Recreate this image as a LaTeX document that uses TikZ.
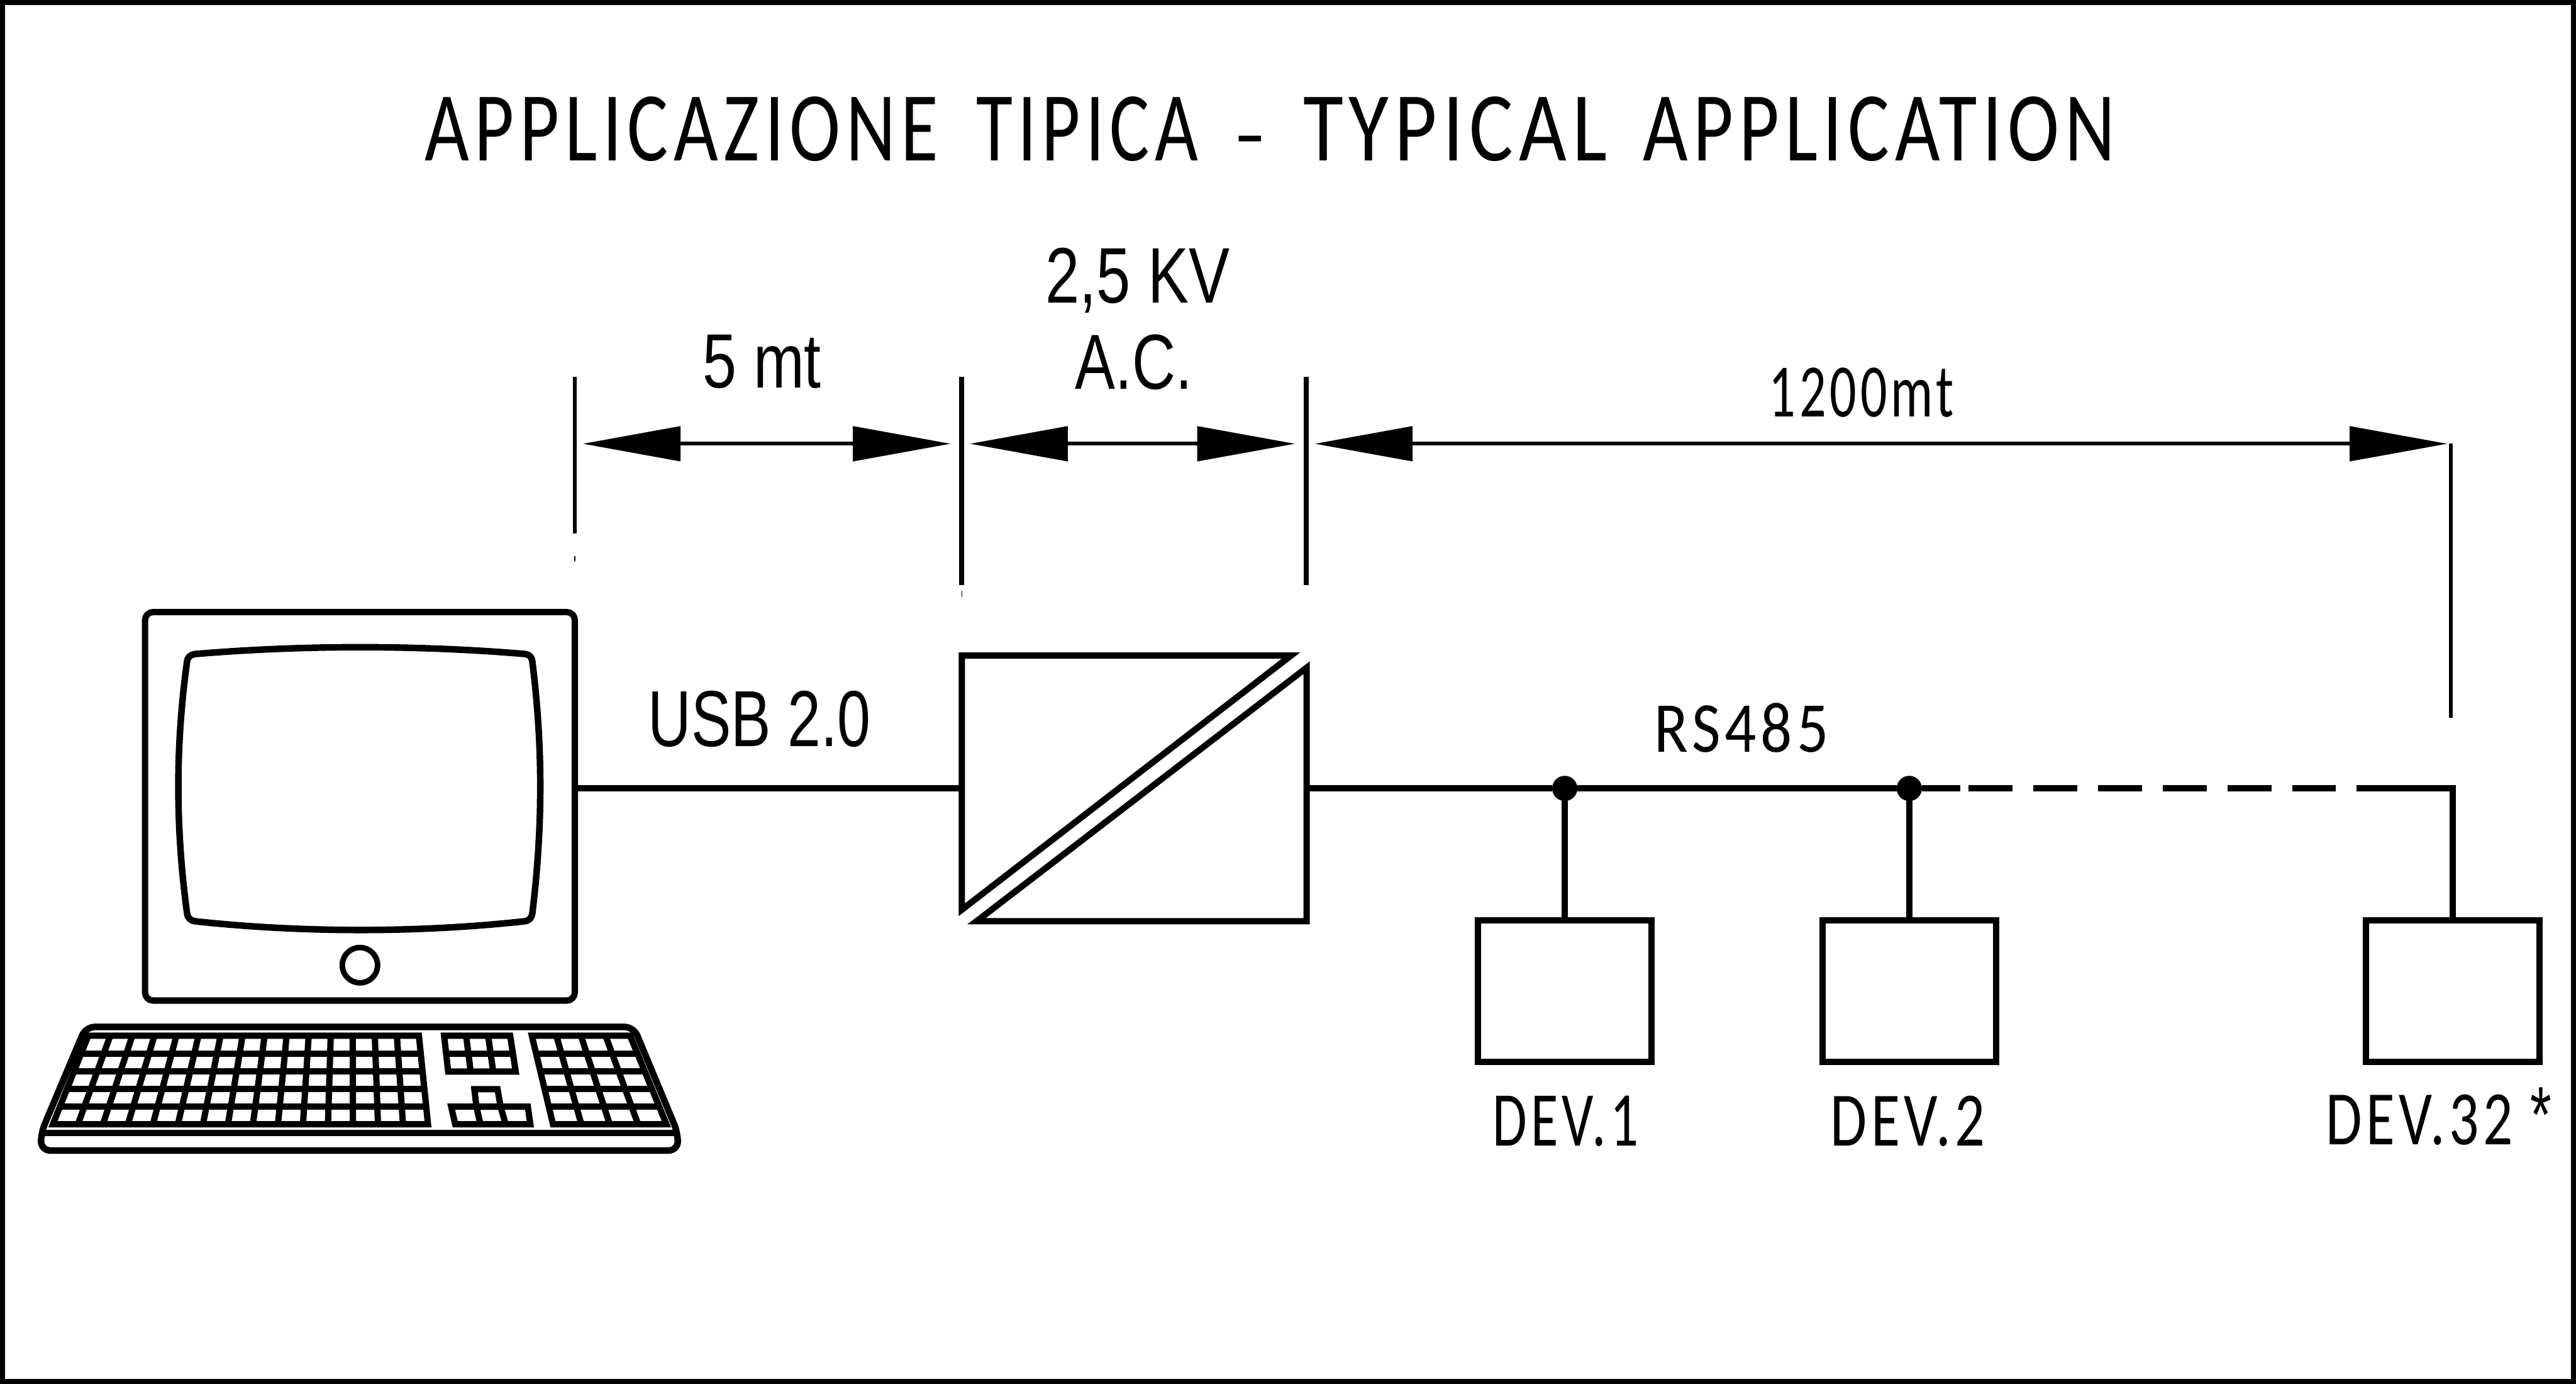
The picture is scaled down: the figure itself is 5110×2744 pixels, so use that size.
\documentclass[tikz,border=0pt]{standalone}
\usepackage{fontspec}
\usepackage{graphicx}
\setmainfont{Liberation Sans}
\newfontfamily\isofont[LetterSpace=7]{Carlito}
\usetikzlibrary{arrows.meta,positioning,calc}

\newcommand{\keyblock}[6]{%
  \coordinate (tl) at #1; \coordinate (tr) at #2;
  \coordinate (br) at #3; \coordinate (bl) at #4;
  \draw[keyline] (tl) -- (tr) -- (br) -- (bl) -- cycle;
  \foreach \c in {1,...,#5} {\draw[keyline] ($(tl)!\c/(#5+1)!(tr)$) -- ($(bl)!\c/(#5+1)!(br)$);}
  \foreach \r in {1,...,#6} {\draw[keyline] ($(tl)!\r/(#6+1)!(bl)$) -- ($(tr)!\r/(#6+1)!(br)$);}
}
\newcommand{\titleword}[2]{\resizebox{#1}{1.27cm}{#2}}

\begin{document}
\begin{tikzpicture}[
x=0.01cm, y=-0.01cm,
box/.style={draw, line width=1.25mm, inner sep=0pt, outer sep=0pt, minimum width=3.44cm, minimum height=2.81cm},
keyline/.style={line width=1.25mm, line join=miter},
outline/.style={line width=1.3mm},
wire/.style={line width=1.25mm},
ext/.style={line width=1mm},
dim/.style={{Triangle[length=1.94cm,width=.68cm]}-{Triangle[length=1.94cm,width=.68cm]}, line width=.75mm},
junction/.style={circle, fill, inner sep=0pt, outer sep=0pt, minimum size=5mm},
lbl/.style={anchor=base west, inner sep=0pt, outer sep=0pt}
]
\useasboundingbox (0,0) rectangle (5110,2744);
\draw[line width=1mm] (5,5) rectangle (5105,2739);

% title
\node[lbl, font=\isofont] (title) at (843,319) {\titleword{10.18cm}{APPLICAZIONE}\hspace{.75cm}\titleword{4.4cm}{TIPICA}\hspace{.74cm}\resizebox{.58cm}{.49cm}{-}\hspace{.76cm}\titleword{6.03cm}{TYPICAL}\hspace{.71cm}\titleword{9.35cm}{APPLICATION}};

% computer
\node[box, rounded corners=1.6mm, minimum width=8.52cm, minimum height=7.7cm] (monitor) at (714,1599) {};
\draw[outline] (387,1297) .. controls (600,1279) and (830,1279) .. (1042,1297)
  .. controls (1050,1298) and (1055,1303) .. (1056,1312)
  .. controls (1077,1480) and (1077,1640) .. (1056,1811)
  .. controls (1055,1820) and (1050,1826) .. (1040,1827)
  .. controls (830,1850) and (600,1850) .. (387,1827)
  .. controls (378,1826) and (372,1820) .. (371,1811)
  .. controls (348,1640) and (348,1480) .. (371,1312)
  .. controls (372,1303) and (378,1298) .. (387,1297) -- cycle;
\node[draw, circle, line width=1.1mm, inner sep=0pt, minimum size=7mm] (knob) at (714,1914) {};
\draw[outline, rounded corners=1.8mm] (81.5,2246.5) -- (170,2036.5) -- (1257,2036.5) -- (1344.5,2246.5) -- (1344.5,2281.5) -- (81.5,2281.5) -- cycle;
\draw[outline] (81.5,2246.5) -- (1344.5,2246.5);
\keyblock{(175,2054)}{(831,2054)}{(849,2229.5)}{(105,2229.5)}{14}{4}
\keyblock{(881,2054)}{(1012,2054)}{(1023,2125)}{(889,2125)}{2}{1}
\keyblock{(1055,2054)}{(1250,2054)}{(1322,2229.5)}{(1097,2229.5)}{3}{4}
% arrow keys
\draw[keyline] (941,2160) -- (987,2160) -- (993,2194.5) -- (945,2194.5) -- cycle;
\draw[keyline] (895,2194.5) -- (1047,2194.5) -- (1052,2229.5) -- (903,2229.5) -- cycle;
\draw[keyline] (945,2194.5) -- (953,2229.5);
\draw[keyline] (993,2194.5) -- (1003,2229.5);

% converter
\node[inner sep=0pt, outer sep=0pt, minimum width=6.84cm, minimum height=5.27cm] (conv) at (2250,1563.5) {};
\draw[wire, line join=miter] (1908,1300) -- (2561,1300) -- (1908,1804) -- cycle;
\draw[wire, line join=miter] (2592,1324) -- (2592,1827) -- (1937,1827) -- cycle;

% devices
\node[box] (dev1) at (3104,1965.5) {};
\node[box, right=3.39cm of dev1] (dev2) {};
\node[box, right=7.335cm of dev2] (dev3) {};

% bus
\node[junction] (j1) at (dev1.north |- conv.east) {};
\node[junction] (j2) at (dev2.north |- conv.east) {};
\coordinate (busa) at (3888,1563.5);
\coordinate (busb) at (3905,1563.5);
\coordinate (busc) at (4633,1563.5);
\coordinate (busd) at (4674,1563.5);
\coordinate (buse) at (dev3.north |- conv.east);
\draw[wire] (monitor.east |- conv.west) -- (conv.west);
\draw[wire] (conv.east) -- (j1);
\draw[wire] (j1) -- (j2);
\draw[wire] (j2) -- (busa);
\draw[wire, dash pattern=on .87cm off .415cm] (busb) -- (busc);
\draw[wire, line join=miter] (busd) -- (buse) -- (dev3.north);
\draw[wire] (j1) -- (dev1.north);
\draw[wire] (j2) -- (dev2.north);

% dimension lines
\coordinate (e1) at (1140,880);
\coordinate (e2) at (1908,880);
\coordinate (e3) at (2591,880);
\coordinate (e4) at (4862,880);
\draw[line width=.8mm] (1140,747) -- (e1) -- (1140,1058);
\draw[ext] (1908,747) -- (e2) -- (1908,1160);
\draw[ext] (2591,747) -- (e3) -- (2591,1160);
\draw[line width=.8mm] (e4) -- (4862,1423);
\draw[line width=.2mm] (1140,1103) -- (1140,1113);
\draw[line width=.2mm] (1908,1172) -- (1908,1184);
\draw[dim, shorten <=.16cm, shorten >=.22cm] (e1) -- (e2);
\draw[dim, shorten <=.16cm, shorten >=.22cm] (e2) -- (e3);
\draw[dim, shorten <=.17cm, shorten >=.07cm] (e3) -- (e4);

% labels
\node[lbl] (l5mt) at (1394,769) {\resizebox{2.35cm}{1.05cm}{5 mt}};
\node[lbl] (lkv) at (2074,601) {\resizebox{3.65cm}{1.09cm}{2,5 KV}};
\node[lbl] (lac) at (2133,771) {\resizebox{2.32cm}{1.08cm}{A.C.}};
\node[lbl] (l1200) at (3509,826) {\resizebox{3.67cm}{.97cm}{\isofont 1200mt}};
\node[lbl] (lusb) at (1286,1480) {\resizebox{4.41cm}{1.1cm}{USB 2.0}};
\node[lbl] (lrs) at (3282,1491) {\resizebox{3.45cm}{.97cm}{\isofont RS485}};
\node[lbl] (ldev1) at (2961,2273) {\resizebox{2.89cm}{.99cm}{\isofont DEV.1}};
\node[lbl] (ldev2) at (3631,2273) {\resizebox{3.07cm}{.99cm}{\isofont DEV.2}};
\node[lbl] (ldev3) at (4614,2270) {\resizebox{3.71cm}{.99cm}{\isofont DEV.32}};
\node[lbl] (lstar) at (5020,2265) {\resizebox{.42cm}{1.08cm}{*}};
\end{tikzpicture}
\end{document}
